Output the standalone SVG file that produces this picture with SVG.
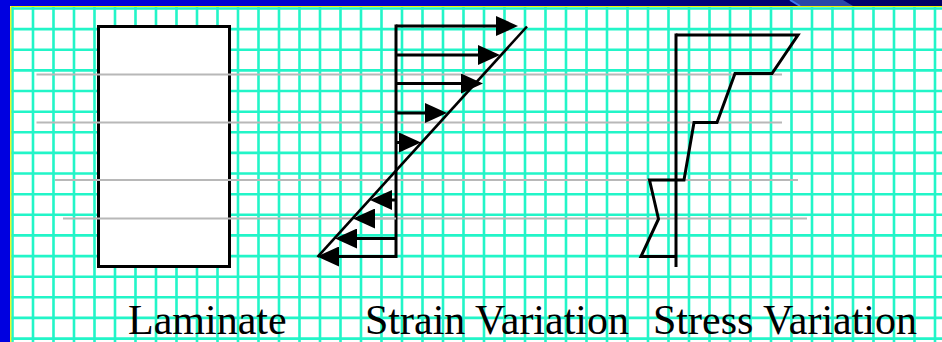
<svg xmlns="http://www.w3.org/2000/svg" width="942" height="342" viewBox="0 0 942 342">
<defs>
<style>
.grid{fill:none;stroke:#22f5c8;stroke-width:2.6}
.sep{fill:none;stroke:#b8b8b8;stroke-width:2}
.blk{fill:none;stroke:#000;stroke-width:3}
.box{fill:#ffffff;stroke:#000;stroke-width:3}
.arr{fill:none;stroke:#000;stroke-width:3;marker-end:url(#ah)}
.lbl{font-family:"Liberation Serif","Times New Roman",serif;font-size:42px;fill:#000}
</style>
<linearGradient id="topg" x1="0" y1="0" x2="942" y2="0" gradientUnits="userSpaceOnUse">
<stop offset="0" stop-color="#0000e0"/>
<stop offset="0.45" stop-color="#0000c8"/>
<stop offset="0.75" stop-color="#000078"/>
<stop offset="1" stop-color="#000064"/>
</linearGradient>
<marker id="ah" viewBox="0 0 22 20" refX="0" refY="10" markerWidth="22" markerHeight="20" markerUnits="userSpaceOnUse" orient="auto">
<path d="M0,0L22,10L0,20z" fill="#000"/>
</marker>
</defs>
<g id="background">
<rect x="0" y="0" width="942" height="342" fill="#ffffff"/>
<path class="grid" d="M12.5 7V342M33 7V342M53.5 7V342M74 7V342M94.5 7V342M115 7V342M135.5 7V342M156 7V342M176.5 7V342M197 7V342M217.5 7V342M238 7V342M258.5 7V342M279 7V342M299.5 7V342M320 7V342M340.5 7V342M361 7V342M381.5 7V342M402 7V342M422.5 7V342M443 7V342M463.5 7V342M484 7V342M504.5 7V342M525 7V342M545.5 7V342M566 7V342M586.5 7V342M607 7V342M627.5 7V342M648 7V342M668.5 7V342M689 7V342M709.5 7V342M730 7V342M750.5 7V342M771 7V342M791.5 7V342M812 7V342M832.5 7V342M853 7V342M873.5 7V342M894 7V342M914.5 7V342M935 7V342M11 8.5H942M11 29.1H942M11 49.8H942M11 70.4H942M11 91H942M11 111.7H942M11 132.3H942M11 152.9H942M11 173.5H942M11 194.2H942M11 214.8H942M11 235.4H942M11 256.1H942M11 276.7H942M11 297.3H942M11 317.9H942M11 338.6H942"/>
<rect x="0" y="0" width="942" height="6" fill="url(#topg)"/>
<polygon points="790,0 843,0 853,6 800,6" fill="#2a48a8"/>
<line x1="790" y1="0" x2="800" y2="6" stroke="#3c78f0" stroke-width="2"/>
<rect x="0" y="0" width="10" height="342" fill="#0000e0"/>
<path d="M10.8 6.5V342M10.8 6.5H942" fill="none" stroke="#f0f000" stroke-width="1.2"/>
</g>
<g id="laminate">
<rect class="box" x="98.5" y="26.5" width="131" height="240"/>
</g>
<g id="layer-lines">
<line class="sep" x1="36.5" y1="74.5" x2="782" y2="74.5"/>
<line class="sep" x1="36.5" y1="122.5" x2="782" y2="122.5"/>
<line class="sep" x1="55" y1="180" x2="798" y2="180"/>
<line class="sep" x1="63" y1="218.5" x2="807" y2="218.5"/>
</g>
<g id="strain">
<line class="blk" x1="396" y1="24.5" x2="396" y2="258"/>
<line x1="317.5" y1="257" x2="527" y2="26.5" stroke="#000" stroke-width="2.6"/>
</g>
<g id="connectors">
<line class="arr" x1="396" y1="26" x2="496" y2="26"/>
<line class="arr" x1="396" y1="55" x2="478" y2="55"/>
<line class="arr" x1="396" y1="83.5" x2="461" y2="83.5"/>
<line class="arr" x1="396" y1="113" x2="425" y2="113"/>
<line class="arr" x1="396" y1="142.5" x2="399" y2="142.5"/>
<line class="arr" x1="396" y1="200" x2="392" y2="200"/>
<line class="sep" x1="396" y1="218.5" x2="375" y2="218.5" marker-end="url(#ah)"/>
<line class="arr" x1="396" y1="238.5" x2="357" y2="238.5"/>
<line class="arr" x1="396" y1="256.5" x2="339" y2="256.5"/>
</g>
<g id="stress">
<line class="blk" x1="676" y1="33.5" x2="676" y2="267"/>
<polyline class="blk" points="676,35 798,35 772,73.5 735,73.5 717,122.5 694,122.5 684,180 649.5,180 658.5,219 641,256.5 676,256.5"/>
</g>
<g id="labels">
<text class="lbl" x="128" y="334">Laminate</text>
<text class="lbl" x="365" y="334">Strain Variation</text>
<text class="lbl" x="653" y="334">Stress Variation</text>
</g>
</svg>
